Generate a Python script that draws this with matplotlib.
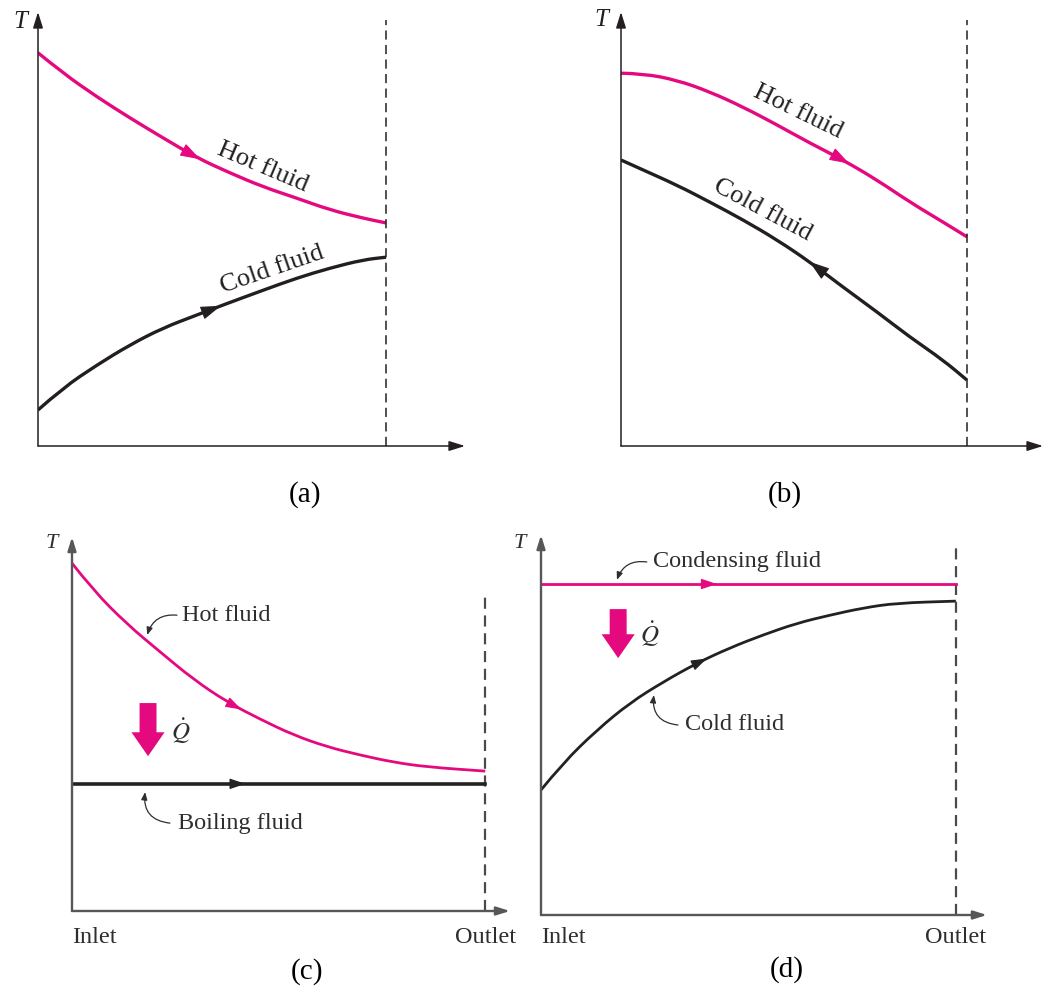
import numpy as np
import matplotlib
matplotlib.use("Agg")
import matplotlib.pyplot as plt
from matplotlib.path import Path
from matplotlib.patches import PathPatch

plt.rcParams['mathtext.fontset'] = 'stix'
SERIF = ['Liberation Serif', 'DejaVu Serif']

# ---------------- data: x = position along exchanger (0 inlet, 1 outlet), T in arbitrary units ----
a_hot_x = [0.0, 0.072, 0.17, 0.264, 0.359, 0.457, 0.552, 0.647, 0.744, 0.839, 0.934, 1.0]
a_hot_T = [90.6, 85.9, 80.4, 75.6, 71.0, 66.4, 62.9, 59.7, 57.1, 54.4, 52.5, 51.4]
a_cold_x = [0.0, 0.072, 0.17, 0.264, 0.359, 0.457, 0.532, 0.647, 0.744, 0.839, 0.934, 1.0]
a_cold_T = [8.3, 13.4, 18.7, 23.3, 27.2, 30.2, 32.5, 35.9, 38.7, 41.0, 42.9, 43.5]

b_hot_x = [0.0, 0.064, 0.162, 0.257, 0.353, 0.451, 0.546, 0.642, 0.740, 0.835, 0.931, 1.0]
b_hot_T = [85.9, 85.8, 84.3, 81.6, 78.1, 74.0, 69.8, 65.9, 61.3, 56.2, 51.6, 48.2]
b_cold_x = [0.0, 0.064, 0.162, 0.257, 0.353, 0.451, 0.546, 0.642, 0.740, 0.835, 0.931, 1.0]
b_cold_T = [65.9, 63.6, 60.1, 56.2, 52.1, 47.5, 42.4, 36.6, 30.9, 25.1, 19.8, 15.2]

c_hot_x = [0.0, 0.051, 0.133, 0.213, 0.293, 0.375, 0.455, 0.535, 0.617, 0.697, 0.777, 0.860, 1.0]
c_hot_T = [93.0, 85.8, 76.7, 69.3, 62.0, 55.9, 51.3, 47.1, 43.9, 41.7, 39.8, 38.5, 37.4]
c_boil_x = [0.0, 1.0]
c_boil_T = [34.0, 34.0]

d_cond_x = [0.0, 1.0]
d_cond_T = [87.1, 87.1]
d_cold_x = [0.0, 0.053, 0.135, 0.214, 0.294, 0.376, 0.455, 0.535, 0.617, 0.696, 0.776, 0.858, 1.0]
d_cold_T = [32.9, 40.0, 48.7, 55.8, 61.3, 66.3, 70.3, 73.7, 76.8, 78.9, 80.8, 82.1, 82.6]

captions = ['(a)', '(b)', '(c)', '(d)']
x_labels = ['Inlet', 'Outlet']

# ---------------- style ----------------
MAG = '#E5097F'
INK = '#231f20'
GRAY = '#575757'
TXT = '#2e2e2e'
W, H = 1045, 990
fig = plt.figure(figsize=(W / 100, H / 100), dpi=100)


def fpos(px, py):
    return px / W, 1 - py / H


def make_axes(l, t, r, b, xmax):
    ax = fig.add_axes([l / W, 1 - b / H, (r - l) / W, (b - t) / H])
    ax.set_xlim(0, xmax)
    ax.set_ylim(0, 100)
    ax.axis('off')
    return ax


def smooth_curve(ax, xs, Ts, color, lw):
    """Draw the read points as a smooth quadratic-Bezier path (rendering only)."""
    pts = list(zip(xs, Ts))
    if len(pts) < 3:
        ax.plot(xs, Ts, color=color, lw=lw, solid_capstyle='butt')
        return
    verts = [pts[0]]
    codes = [Path.MOVETO]
    for i in range(1, len(pts) - 1):
        mid = ((pts[i][0] + pts[i + 1][0]) / 2, (pts[i][1] + pts[i + 1][1]) / 2)
        verts += [pts[i], mid]
        codes += [Path.CURVE3, Path.CURVE3]
    verts.append(pts[-1])
    codes.append(Path.LINETO)
    ax.add_patch(PathPatch(Path(verts, codes), fill=False, edgecolor=color, lw=lw,
                           capstyle='butt'))


def axis_arrows(ax, color, lw, ms):
    style = '-|>,head_length=0.8,head_width=0.25'
    for xy in [(0, 1), (1, 0)]:
        ax.annotate('', xy=xy, xytext=(0, 0), xycoords='axes fraction',
                    textcoords='axes fraction',
                    arrowprops=dict(arrowstyle=style, lw=lw, color=color,
                                    shrinkA=0, shrinkB=0, mutation_scale=ms))


def outlet_line(ax, top, color, lw, dashes):
    ax.plot([1, 1], [0, top], color=color, lw=lw, dashes=dashes, clip_on=False)


def flow_arrow(ax, xs, Ts, xa, color, ms, direction=1):
    d = 0.03 * direction
    ya = np.interp(xa, xs, Ts)
    yb = np.interp(xa - d, xs, Ts)
    ax.annotate('', xy=(xa, ya), xytext=(xa - d, yb),
                arrowprops=dict(arrowstyle='-|>,head_length=0.9,head_width=0.3',
                                color=color, lw=0.8, shrinkA=0, shrinkB=0,
                                mutation_scale=ms))


def leader(ax, start, tip, rad, color):
    ax.annotate('', xy=tip, xytext=start,
                arrowprops=dict(arrowstyle='-|>,head_length=0.5,head_width=0.2',
                                connectionstyle=f'arc3,rad={rad}', lw=0.9,
                                color=color, shrinkA=0, shrinkB=0, mutation_scale=9))


def q_arrow(ax, x, t0, t1):
    ax.annotate('', xy=(x, t1), xytext=(x, t0),
                arrowprops=dict(arrowstyle='simple,head_length=0.86,head_width=1.19,tail_width=0.61',
                                fc=MAG, ec='none', shrinkA=0, shrinkB=0, mutation_scale=20))


# ---------------- (a) parallel flow ----------------
axa = make_axes(38, 12, 465, 446, 1.227)
axis_arrows(axa, INK, 1.1, 12)
outlet_line(axa, 98.2, INK, 1.1, (6, 3.5))
smooth_curve(axa, a_hot_x, a_hot_T, MAG, 2.4)
smooth_curve(axa, a_cold_x, a_cold_T, INK, 2.4)
flow_arrow(axa, a_hot_x, a_hot_T, 0.466, MAG, 14)
flow_arrow(axa, a_cold_x, a_cold_T, 0.525, INK, 14)
axa.text(0.647, 64.3, 'Hot fluid', family=SERIF, fontsize=19, rotation=-23,
         ha='center', va='center', rotation_mode='anchor', color=INK)
axa.text(0.672, 40.6, 'Cold fluid', family=SERIF, fontsize=19, rotation=19,
         ha='center', va='center', rotation_mode='anchor', color=INK)

# ---------------- (b) counter flow ----------------
axb = make_axes(621, 12, 1043, 446, 1.22)
axis_arrows(axb, INK, 1.1, 12)
outlet_line(axb, 98.2, INK, 1.1, (6, 3.5))
smooth_curve(axb, b_hot_x, b_hot_T, MAG, 2.4)
smooth_curve(axb, b_cold_x, b_cold_T, INK, 2.4)
flow_arrow(axb, b_hot_x, b_hot_T, 0.66, MAG, 14)
flow_arrow(axb, b_cold_x, b_cold_T, 0.545, INK, 14, direction=-1)
axb.text(0.512, 77.0, 'Hot fluid', family=SERIF, fontsize=19, rotation=-26,
         ha='center', va='center', rotation_mode='anchor', color=INK)
axb.text(0.408, 54.4, 'Cold fluid', family=SERIF, fontsize=19, rotation=-28,
         ha='center', va='center', rotation_mode='anchor', color=INK)

# ---------------- (c) boiling ----------------
axc = make_axes(72, 537, 510, 911, 1.06)
axis_arrows(axc, GRAY, 1.7, 10)
outlet_line(axc, 84.0, '#4a4a4a', 1.6, (5, 3))
smooth_curve(axc, c_hot_x, c_hot_T, MAG, 2.0)
axc.plot(c_boil_x, c_boil_T, color='#222222', lw=2.6)
flow_arrow(axc, c_hot_x, c_hot_T, 0.41, MAG, 11)
flow_arrow(axc, c_boil_x, c_boil_T, 0.42, '#222222', 11)
q_arrow(axc, 0.184, 55.6, 41.4)
axc.text(0.262, 48.1, r'$\dot{Q}$', fontsize=18, ha='center', va='center', color=TXT)
axc.text(0.266, 79.1, 'Hot fluid', family=SERIF, fontsize=17.5, ha='left', va='center', color=TXT)
leader(axc, (0.254, 79.1), (0.182, 73.8), 0.4, TXT)
axc.text(0.257, 23.5, 'Boiling fluid', family=SERIF, fontsize=17.5, ha='left', va='center', color=TXT)
leader(axc, (0.237, 23.5), (0.177, 31.8), -0.5, TXT)
axc.text(0.0, -7.0, x_labels[0], family=SERIF, fontsize=17.5, ha='left', va='center', color=TXT)
axc.text(1.0, -7.0, x_labels[1], family=SERIF, fontsize=17.5, ha='center', va='center', color=TXT)

# ---------------- (d) condensing ----------------
axd = make_axes(541, 535, 987, 915, 1.075)
axis_arrows(axd, GRAY, 1.7, 10)
outlet_line(axd, 97.4, '#4a4a4a', 1.6, (5, 3))
axd.plot(d_cond_x, d_cond_T, color=MAG, lw=2.0)
smooth_curve(axd, d_cold_x, d_cold_T, '#222222', 2.0)
flow_arrow(axd, d_cond_x, d_cond_T, 0.424, MAG, 11)
flow_arrow(axd, d_cold_x, d_cold_T, 0.40, '#222222', 11)
q_arrow(axd, 0.186, 80.5, 67.6)
axd.text(0.263, 73.9, r'$\dot{Q}$', fontsize=18, ha='center', va='center', color=TXT)
axd.text(0.270, 92.9, 'Condensing fluid', family=SERIF, fontsize=17.5, ha='left', va='center', color=TXT)
leader(axd, (0.255, 92.9), (0.183, 88.2), 0.4, TXT)
axd.text(0.347, 50.0, 'Cold fluid', family=SERIF, fontsize=17.5, ha='left', va='center', color=TXT)
leader(axd, (0.330, 50.0), (0.272, 57.9), -0.5, TXT)
axd.text(0.0, -5.8, x_labels[0], family=SERIF, fontsize=17.5, ha='left', va='center', color=TXT)
axd.text(1.0, -5.8, x_labels[1], family=SERIF, fontsize=17.5, ha='center', va='center', color=TXT)

# ---------------- T labels and captions ----------------
for (px, py), fs, col in [((20, 22), 18, INK), ((601, 20), 18, INK),
                          ((52, 543), 16, TXT), ((520, 543), 16, TXT)]:
    fig.text(*fpos(px, py), 'T', family=SERIF, style='italic', fontsize=fs,
             ha='center', va='center', color=col)

for cap, (px, py) in zip(captions, [(305, 495), (785, 495), (307, 972), (787, 970)]):
    fig.text(*fpos(px, py), cap, family=SERIF, fontsize=21, ha='center', va='center', color='black')

fig.savefig('out.png', dpi=100, facecolor='white')
